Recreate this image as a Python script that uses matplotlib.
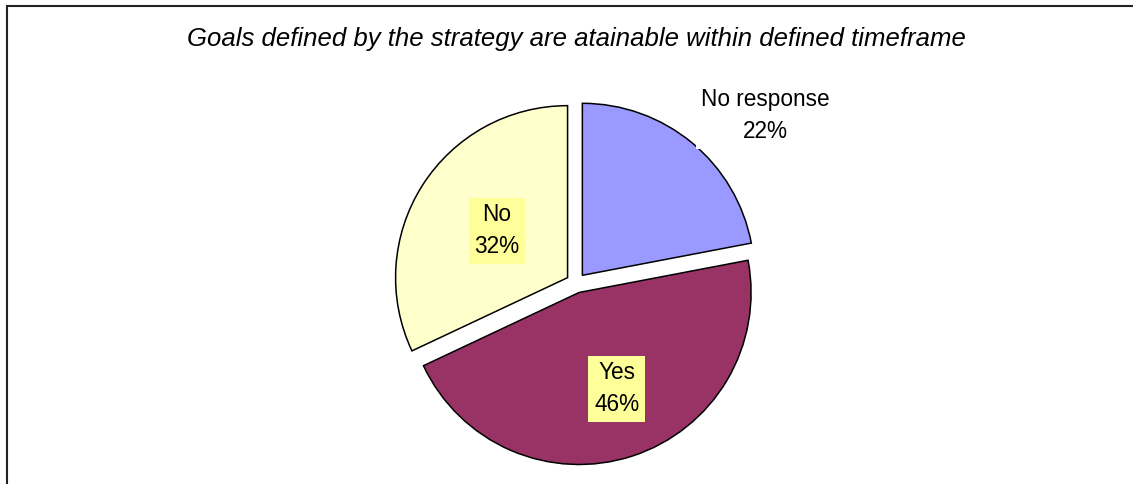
import matplotlib.pyplot as plt
from matplotlib.patches import Rectangle
import numpy as np

plt.rcParams['font.family'] = ['Liberation Sans', 'DejaVu Sans']

# Survey answers
labels = ['No response', 'Yes', 'No']
shares = [22, 46, 32]
colors = ['#9999FF', '#993366', '#FFFFCC']
title = 'Goals defined by the strategy are atainable within defined timeframe'

W, H = 1133, 484
fig = plt.figure(figsize=(W / 100, H / 100), dpi=100)
ax = fig.add_axes([0, 0, 1, 1])

# work in pixel units so the pie lands where we want it
cx, cy, r = 576, H - 283, 172
gap = 0.058 * r  # explode offset is in data units, not radii
wedges, _ = ax.pie(shares, colors=colors, startangle=90, counterclock=False,
                   center=(cx, cy), radius=r, explode=[gap] * 3,
                   wedgeprops=dict(edgecolor='black', linewidth=1.1))
ax.set_xlim(0, W)
ax.set_ylim(0, H)
ax.set_aspect('equal')
ax.axis('off')

# data labels: distance from centre (in radii) and angle tweak per slice
label_pos = {'No response': (1.47, -9), 'Yes': (0.66, 3), 'No': (0.55, -1)}
for w, lab, val in zip(wedges, labels, shares):
    dist, dang = label_pos[lab]
    ang = np.deg2rad((w.theta1 + w.theta2) / 2 + dang)
    x = cx + dist * r * np.cos(ang)
    y = cy + dist * r * np.sin(ang)
    face = 'white' if lab == 'No response' else '#FFFF99'
    ax.text(x, y, f'{lab}\n{val}%', ha='center', va='center', fontsize=16.3,
            linespacing=1.5,
            bbox=dict(boxstyle='square,pad=0.25', facecolor=face, edgecolor='none'))

fig.text(0.5085, 1 - 39 / H, title, ha='center', va='center', fontsize=18.5,
         style='italic')

# chart area frame, runs off the right and bottom edges
fig.add_artist(Rectangle((7 / W, -0.1), 1.2, 1 - 6 / H + 0.1, transform=fig.transFigure,
                         fill=False, edgecolor='#222222', linewidth=1.5))

fig.savefig('out.png', dpi=100)
